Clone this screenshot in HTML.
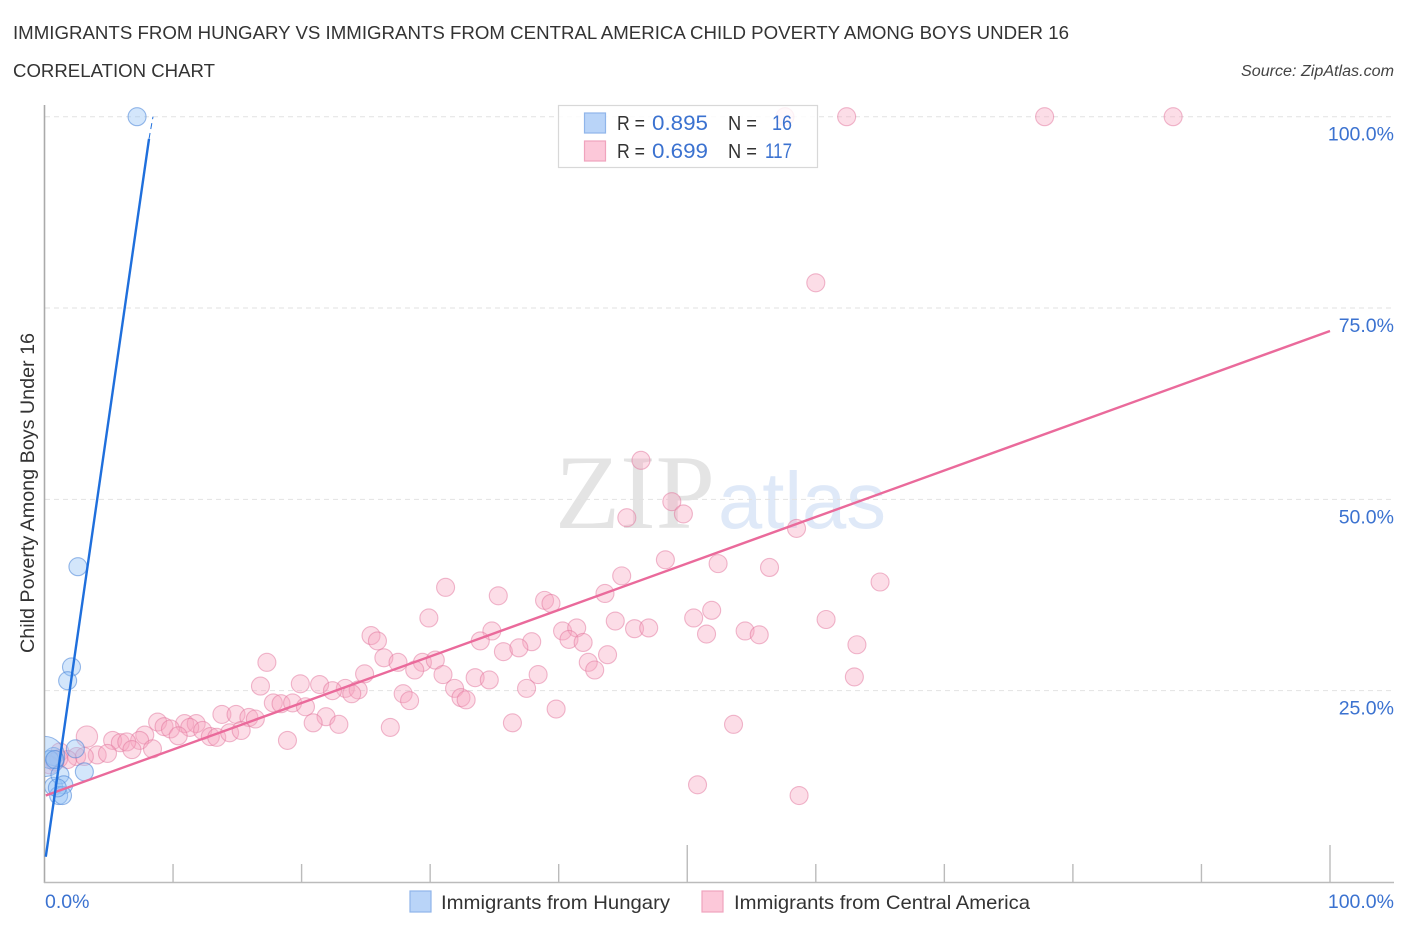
<!DOCTYPE html>
<html lang="en">
<head>
<meta charset="utf-8">
<title>Immigrants from Hungary vs Immigrants from Central America Child Poverty Among Boys Under 16</title>
<style>
html,body{margin:0;padding:0;background:#fff;}
body{width:1406px;height:930px;overflow:hidden;}
svg{display:block;font-family:"Liberation Sans",sans-serif;}
</style>
</head>
<body>
<svg id="chart" xmlns="http://www.w3.org/2000/svg" width="1406" height="930" viewBox="0 0 1406 930">
<defs><clipPath id="plot-clip"><rect x="45" y="90" width="1350" height="793"/></clipPath></defs>
<text x="13" y="39" font-size="18.5" fill="#333" textLength="1056" lengthAdjust="spacingAndGlyphs">IMMIGRANTS FROM HUNGARY VS IMMIGRANTS FROM CENTRAL AMERICA CHILD POVERTY AMONG BOYS UNDER 16</text>
<text x="13" y="77" font-size="18.5" fill="#333" textLength="202" lengthAdjust="spacingAndGlyphs">CORRELATION CHART</text>
<text x="1241" y="76" font-size="15.5" font-style="italic" fill="#444" textLength="153" lengthAdjust="spacingAndGlyphs">Source: ZipAtlas.com</text>
<text x="555" y="528" font-family="'Liberation Serif',serif" font-size="106" fill="#e4e4e4" textLength="160" lengthAdjust="spacingAndGlyphs">ZIP</text>
<text x="718" y="528" font-family="'Liberation Sans',sans-serif" font-size="80" fill="#dfe9f8" textLength="168" lengthAdjust="spacingAndGlyphs">atlas</text>
<g id="grid"></g>
<g id="axes"></g>
<g id="pink-points" clip-path="url(#plot-clip)"></g>
<g id="blue-points" clip-path="url(#plot-clip)"></g>
<g id="trends"></g>
<g id="labels"></g>
<text transform="translate(34 493) rotate(-90)" text-anchor="middle" font-size="19" fill="#333" textLength="320" lengthAdjust="spacingAndGlyphs">Child Poverty Among Boys Under 16</text>
<g>
<rect x="558.5" y="105.5" width="259" height="62" fill="#fff" fill-opacity="0.82" stroke="#d8d8d8" stroke-width="1.2"/>
<rect x="584.5" y="113" width="21" height="20" fill="#b9d4f8" stroke="#8fb5ea" stroke-width="1.2"/>
<rect x="584.5" y="141" width="21" height="20" fill="#fcc8d9" stroke="#f0a3bd" stroke-width="1.2"/>
<text x="617" y="130" font-size="20" fill="#333" textLength="28" lengthAdjust="spacingAndGlyphs">R =</text>
<text x="652" y="130" font-size="21" fill="#3b72d0" textLength="56" lengthAdjust="spacingAndGlyphs">0.895</text>
<text x="728" y="130" font-size="20" fill="#333" textLength="29" lengthAdjust="spacingAndGlyphs">N =</text>
<text x="772" y="130" font-size="21" fill="#3b72d0" textLength="20" lengthAdjust="spacingAndGlyphs">16</text>
<text x="617" y="158" font-size="20" fill="#333" textLength="28" lengthAdjust="spacingAndGlyphs">R =</text>
<text x="652" y="158" font-size="21" fill="#3b72d0" textLength="56" lengthAdjust="spacingAndGlyphs">0.699</text>
<text x="728" y="158" font-size="20" fill="#333" textLength="29" lengthAdjust="spacingAndGlyphs">N =</text>
<text x="765" y="158" font-size="21" fill="#3b72d0" textLength="27" lengthAdjust="spacingAndGlyphs">117</text>
</g>
<g>
<rect x="410" y="891" width="21" height="21" fill="#b9d4f8" stroke="#8fb5ea" stroke-width="1.2"/>
<text x="441" y="909" font-size="19.5" fill="#333" textLength="229" lengthAdjust="spacingAndGlyphs">Immigrants from Hungary</text>
<rect x="702" y="891" width="21" height="21" fill="#fcc8d9" stroke="#f0a3bd" stroke-width="1.2"/>
<text x="734" y="909" font-size="19.5" fill="#333" textLength="296" lengthAdjust="spacingAndGlyphs">Immigrants from Central America</text>
</g>
</svg>
<script>
const xTicks = [0, 10, 20, 30, 40, 50, 60, 70, 80, 90, 100];
const yTicks = [25, 50, 75, 100];
const yTickLabels = ["25.0%", "50.0%", "75.0%", "100.0%"];
const xEndLabels = ["0.0%", "100.0%"];
const hungaryX = [7.2, 2.6, 2.1, 1.8, 3.1, 2.4, 0.7, 0.4, 0.0, 0.7, 1.2, 1.5, 1.1, 1.4, 1.0, 0.8];
const hungaryY = [100, 41.2, 28.1, 26.3, 14.4, 17.4, 16.4, 16, 16.4, 12.5, 14, 12.7, 11.3, 11.3, 12.3, 16];
const hungarySize = [1, 1, 1, 1, 1, 1, 1, 1, 5, 1, 1, 1, 1, 1, 1, 1];
const centralX = [57.6, 62.4, 77.8, 87.8, 60.0, 46.4, 48.8, 49.7, 45.3, 58.5, 48.3, 52.4, 56.4, 44.9, 65.0, 31.2, 35.3, 43.6, 38.9, 39.4, 51.9, 29.9, 44.4, 50.5, 60.8, 34.8, 40.3, 41.4, 54.5, 55.6, 45.9, 47.0, 51.5, 25.4, 25.9, 33.9, 37.9, 40.8, 41.9, 63.2, 35.7, 36.9, 43.8, 26.4, 17.3, 27.5, 29.4, 30.4, 42.3, 42.8, 28.8, 24.9, 31.0, 38.4, 33.5, 34.6, 63.0, 16.8, 19.9, 21.4, 31.9, 23.4, 22.4, 24.4, 37.5, 23.9, 27.9, 28.4, 32.4, 32.8, 17.8, 18.4, 19.3, 20.3, 39.8, 13.8, 14.9, 15.9, 16.4, 21.9, 20.9, 22.9, 36.4, 53.6, 26.9, 8.8, 10.9, 9.3, 9.8, 11.8, 11.3, 12.3, 12.9, 13.4, 14.4, 15.3, 18.9, 10.4, 7.8, 7.4, 5.3, 3.3, 5.9, 6.4, 6.8, 8.4, 4.1, 4.9, 2.5, 1.2, 3.1, 1.8, 1.1, 0.4, 0.8, 50.8, 58.7];
const centralY = [100, 100, 100, 100, 78.3, 55.1, 49.7, 48.1, 47.6, 46.2, 42.1, 41.6, 41.1, 40, 39.2, 38.5, 37.4, 37.7, 36.8, 36.4, 35.5, 34.5, 34.1, 34.5, 34.3, 32.8, 32.8, 33.2, 32.8, 32.3, 33.1, 33.2, 32.4, 32.2, 31.5, 31.5, 31.4, 31.7, 31.3, 31, 30.1, 30.6, 29.7, 29.3, 28.7, 28.7, 28.7, 29, 28.7, 27.7, 27.7, 27.2, 27.1, 27.1, 26.7, 26.4, 26.8, 25.6, 25.9, 25.8, 25.3, 25.3, 25, 25.1, 25.3, 24.6, 24.6, 23.7, 24.1, 23.8, 23.4, 23.3, 23.4, 22.9, 22.6, 21.9, 21.9, 21.5, 21.3, 21.6, 20.8, 20.6, 20.8, 20.6, 20.2, 20.9, 20.7, 20.3, 20, 20.7, 20.2, 19.8, 19, 18.9, 19.5, 19.8, 18.5, 19.1, 19.2, 18.5, 18.5, 19, 18.2, 18.3, 17.3, 17.4, 16.6, 16.8, 16.4, 17, 16.4, 16, 16.1, 15.3, 15.7, 12.7, 11.3];
const centralSize = [1, 1, 1, 1, 1, 1, 1, 1, 1, 1, 1, 1, 1, 1, 1, 1, 1, 1, 1, 1, 1, 1, 1, 1, 1, 1, 1, 1, 1, 1, 1, 1, 1, 1, 1, 1, 1, 1, 1, 1, 1, 1, 1, 1, 1, 1, 1, 1, 1, 1, 1, 1, 1, 1, 1, 1, 1, 1, 1, 1, 1, 1, 1, 1, 1, 1, 1, 1, 1, 1, 1, 1, 1, 1, 1, 1, 1, 1, 1, 1, 1, 1, 1, 1, 1, 1, 1, 1, 1, 1, 1, 1, 1, 1, 1, 1, 1, 1, 1, 1, 1, 1.4, 1, 1, 1, 1, 1, 1, 1, 1, 1, 1, 1, 1, 1, 1, 1];
const hungaryTrendX = [0.1, 8.13];
const hungaryTrendY = [3.3, 97.1];
const hungaryTrendDashX = [8.13, 8.44];
const hungaryTrendDashY = [97.1, 100];
const centralTrendX = [0.1, 100];
const centralTrendY = [11.3, 72];

const NS = "http://www.w3.org/2000/svg";
const xPos = v => 44.5 + v * 12.855;
const yPos = v => 882 - v * 7.653;
const radius = s => 9 * Math.sqrt(s);
function make(parent, tag, attrs, text) {
  const el = document.createElementNS(NS, tag);
  for (const k in attrs) el.setAttribute(k, attrs[k]);
  if (text !== undefined) el.textContent = text;
  parent.appendChild(el);
  return el;
}
const grid = document.getElementById("grid");
yTicks.forEach(v => {
  const el = make(grid, "line", {x1: 45, x2: 1394, y1: yPos(v), y2: yPos(v), stroke: "#e2e2e2", "stroke-width": 1, "stroke-dasharray": "5 4"});
  
  
});
const axes = document.getElementById("axes");
const yAxis = make(axes, "line", {x1: 44.5, x2: 44.5, y1: 105, y2: 883, stroke: "#aaa", "stroke-width": 1.6});


const xAxis = make(axes, "line", {x1: 44, x2: 1394, y1: 882.5, y2: 882.5, stroke: "#bbb", "stroke-width": 1.6});


xTicks.slice(1).forEach(v => {
  const tall = v % 50 === 0;
  const el = make(axes, "line", {x1: xPos(v), x2: xPos(v), y1: tall ? 845 : 864, y2: 882, stroke: "#bbb", "stroke-width": 1.4});
  
  
});
function drawPoints(id, xs, ys, sizes, fill, stroke) {
  const g = document.getElementById(id);
  xs.forEach((x, i) => {
    const el = make(g, "circle", {cx: xPos(x), cy: yPos(ys[i]), r: radius(sizes[i]), fill: fill, stroke: stroke, "stroke-width": 1.1});
    
    
  });
}
drawPoints("pink-points", centralX, centralY, centralSize, "rgba(248,165,192,0.38)", "rgba(226,115,155,0.5)");
drawPoints("blue-points", hungaryX, hungaryY, hungarySize, "rgba(150,195,245,0.42)", "rgba(70,130,215,0.55)");
const trends = document.getElementById("trends");
const pinkLine = make(trends, "line", {x1: xPos(centralTrendX[0]), y1: yPos(centralTrendY[0]), x2: xPos(centralTrendX[1]), y2: yPos(centralTrendY[1]), stroke: "#ea6a9b", "stroke-width": 2.4});


const blueLine = make(trends, "line", {x1: xPos(hungaryTrendX[0]), y1: yPos(hungaryTrendY[0]), x2: xPos(hungaryTrendX[1]), y2: yPos(hungaryTrendY[1]), stroke: "#1f6fdc", "stroke-width": 2.4});


const blueDash = make(trends, "line", {x1: xPos(hungaryTrendDashX[0]), y1: yPos(hungaryTrendDashY[0]), x2: xPos(hungaryTrendDashX[1]), y2: yPos(hungaryTrendDashY[1]), stroke: "#1f6fdc", "stroke-width": 1, "stroke-dasharray": "6 4"});


const labels = document.getElementById("labels");
yTicks.forEach((v, i) => {
  const el = make(labels, "text", {x: 1394, y: yPos(v) + 24, "text-anchor": "end", "font-size": 19.5, fill: "#3b72d0"}, yTickLabels[i]);
  
  
});
const x0Label = make(labels, "text", {x: 45, y: 908, "font-size": 19.5, fill: "#3b72d0"}, xEndLabels[0]);


const x1Label = make(labels, "text", {x: 1394, y: 908, "text-anchor": "end", "font-size": 19.5, fill: "#3b72d0"}, xEndLabels[1]);


</script>
</body>
</html>
